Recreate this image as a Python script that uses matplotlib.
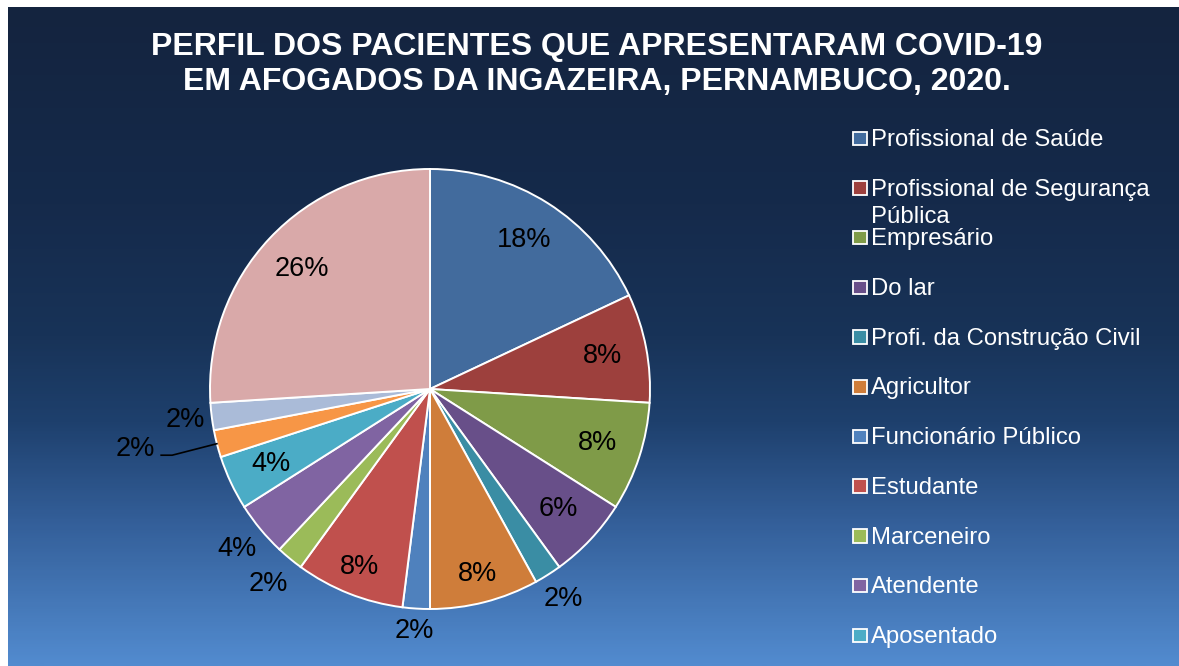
import matplotlib

matplotlib.use("Agg")

import matplotlib.pyplot as plt
import numpy as np
from matplotlib.colors import LinearSegmentedColormap
from matplotlib.patches import Rectangle

plt.rcParams["font.family"] = ["Liberation Sans", "DejaVu Sans"]

# patients per occupation (Afogados da Ingazeira, 2020)
categories = [
    "Profissional de Saúde",
    "Profissional de Segurança\nPública",
    "Empresário",
    "Do lar",
    "Profi. da Construção Civil",
    "Agricultor",
    "Funcionário Público",
    "Estudante",
    "Marceneiro",
    "Atendente",
    "Aposentado",
    "Outro 1",
    "Outro 2",
    "Outro 3",
]
counts = [9, 4, 4, 3, 1, 4, 1, 4, 1, 2, 2, 1, 1, 13]
legend_visible = 11  # the original legend is cut off after "Aposentado"

colors = [
    "#426B9D", "#9D403D", "#7F9B48", "#684F89", "#3A8DA4", "#CF7D3A",
    "#4F81BD", "#C0504D", "#9BBB59", "#8064A2", "#4BACC6", "#F79646",
    "#AABBD8", "#D9A9A9",
]
# radial position of each percent label (inside ~0.8, outside > 1)
label_r = [0.8, 0.8, 0.8, 0.8, 1.13, 0.87, 1.1, 0.87, 1.15, 1.14, 0.8, None, 1.12, 0.8]

W, H = 1179, 666
fig = plt.figure(figsize=(W / 100, H / 100), dpi=100)
fig.patch.set_facecolor("white")

# background gradient panel
bg = fig.add_axes([8 / W, 0, 1 - 8 / W, (H - 7) / H], zorder=0)
cmap = LinearSegmentedColormap.from_list(
    "bg",
    [(0.0, "#14243F"), (0.3, "#152A4B"), (0.5, "#183358"), (0.63, "#1E406D"),
     (0.78, "#335E98"), (1.0, "#528BCF")],
)
grad = np.linspace(0, 1, 300).reshape(-1, 1)
bg.imshow(grad, aspect="auto", cmap=cmap, extent=[0, 1, 0, 1], origin="upper")
bg.set_axis_off()

# pie
cx, cy, r = 430, 389, 220
ax = fig.add_axes([(cx - r) / W, (H - cy - r) / H, 2 * r / W, 2 * r / H], zorder=1)
wedges, _ = ax.pie(
    counts,
    colors=colors,
    startangle=90,
    counterclock=False,
    wedgeprops=dict(edgecolor="white", linewidth=1.4),
)
ax.set_xlim(-1, 1)
ax.set_ylim(-1, 1)
ax.set_aspect("equal")
ax.set_axis_off()

total = sum(counts)
for i, (w, n) in enumerate(zip(wedges, counts)):
    theta = np.deg2rad((w.theta1 + w.theta2) / 2)
    pct = f"{100 * n / total:.0f}%"
    if label_r[i] is None:
        # leader line for the small orange slice
        x0, y0 = np.cos(theta), np.sin(theta)
        x1, y1 = 1.21 * np.cos(theta), 1.21 * np.sin(theta)
        ax.plot([x0, x1, x1 - 0.05], [y0, y1, y1], color="black", lw=1.2,
                clip_on=False)
        ax.text(x1 - 0.08, y1 + 0.03, pct, ha="right", va="center",
                fontsize=19.5, color="black")
        continue
    rr = label_r[i]
    ax.text(rr * np.cos(theta), rr * np.sin(theta), pct, ha="center",
            va="center", fontsize=19.5, color="black")

# title
fig.text(597 / W, 1 - 47 / H, "PERFIL DOS PACIENTES QUE APRESENTARAM COVID-19",
         ha="center", va="center", fontsize=23, fontweight="bold", color="white")
fig.text(597 / W, 1 - 82 / H, "EM AFOGADOS DA INGAZEIRA, PERNAMBUCO, 2020.",
         ha="center", va="center", fontsize=23, fontweight="bold", color="white")

# legend drawn by hand so the wrapped entry keeps the even spacing
step = 49.7
for i in range(legend_visible):
    base = 146 + i * step
    fig.add_artist(Rectangle((853 / W, 1 - (base - 1) / H), 13.5 / W, 13.5 / H,
                             transform=fig.transFigure, facecolor=colors[i],
                             edgecolor="white", linewidth=1.3, zorder=3))
    for j, line in enumerate(categories[i].split("\n")):
        fig.text(871 / W, 1 - (base + 27 * j) / H, line, ha="left",
                 va="baseline", fontsize=17.2, color="white", zorder=3)

fig.savefig("out.png", dpi=100)
